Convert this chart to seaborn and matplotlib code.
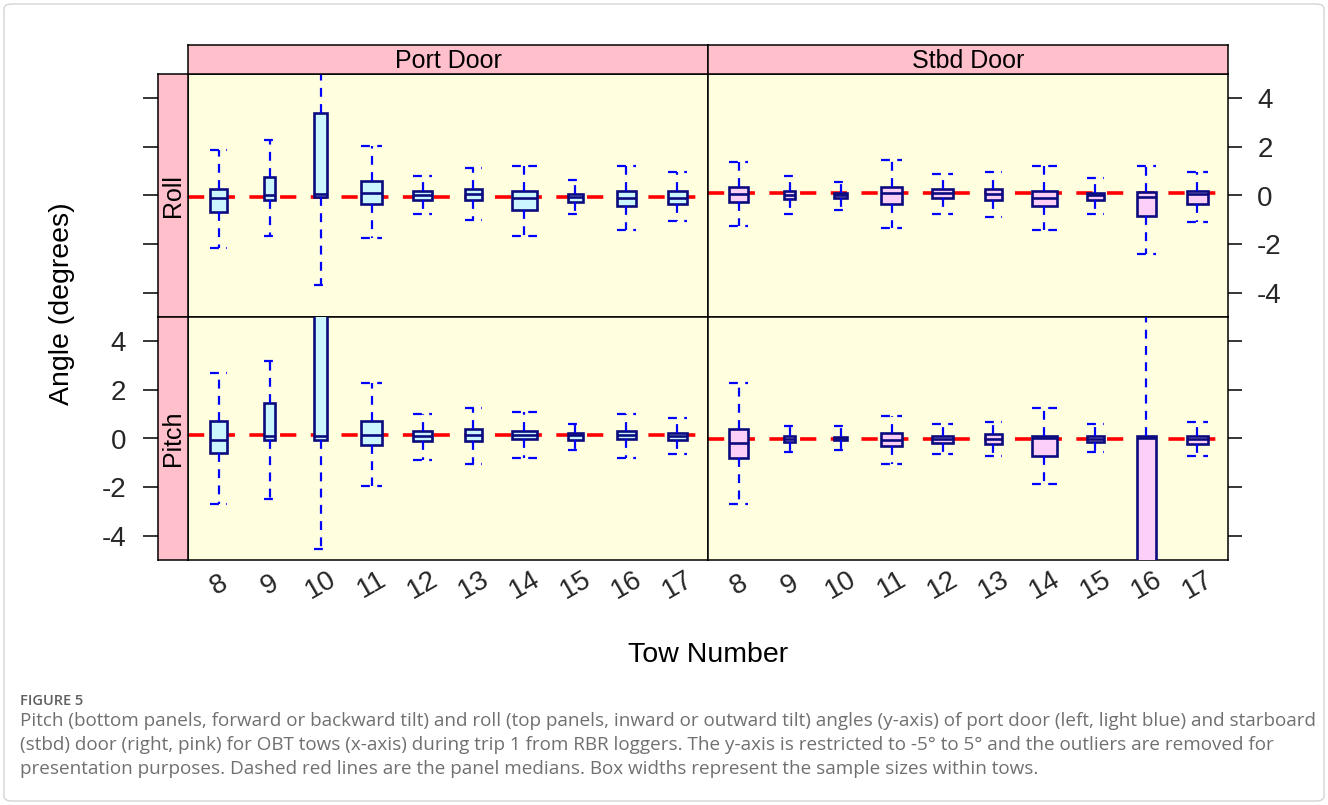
import numpy as np
import matplotlib
matplotlib.use("Agg")
import matplotlib.pyplot as plt
from matplotlib.patches import FancyBboxPatch
import seaborn as sns

# ---------------------------------------------------------------------------
# Data: five-number summaries (lower whisker, Q1, median, Q3, upper whisker)
# of door angles per tow, for each door and angle type.
# ---------------------------------------------------------------------------
tows = [8, 9, 10, 11, 12, 13, 14, 15, 16, 17]
door_names = ["Port Door", "Stbd Door"]
angle_names = ["Roll", "Pitch"]

# relative box widths (scaled by the number of samples in each tow)
port_width = [0.33, 0.21, 0.25, 0.43, 0.38, 0.33, 0.49, 0.29, 0.38, 0.36]
stbd_width = [0.37, 0.21, 0.25, 0.42, 0.40, 0.32, 0.49, 0.32, 0.36, 0.40]

port_roll_low = [-2.16, -1.67, -3.70, -1.74, -0.76, -1.01, -1.67, -0.76, -1.41, -1.06]
port_roll_q1 = [-0.66, -0.18, -0.07, -0.33, -0.18, -0.18, -0.58, -0.25, -0.42, -0.33]
port_roll_med = [-0.09, 0.03, 0.06, 0.10, 0.02, 0.06, -0.09, -0.08, -0.09, -0.09]
port_roll_q3 = [0.26, 0.77, 3.38, 0.59, 0.20, 0.28, 0.20, 0.06, 0.20, 0.20]
port_roll_high = [1.87, 2.27, 6.50, 2.05, 0.80, 1.13, 1.21, 0.64, 1.21, 0.95]

stbd_roll_low = [-1.26, -0.76, -0.60, -1.34, -0.76, -0.90, -1.41, -0.76, -2.41, -1.08]
stbd_roll_q1 = [-0.25, -0.16, -0.10, -0.35, -0.09, -0.18, -0.42, -0.18, -0.84, -0.33]
stbd_roll_med = [0.06, 0.03, 0.01, 0.09, 0.09, 0.06, -0.09, 0.01, -0.05, 0.06]
stbd_roll_q3 = [0.36, 0.20, 0.10, 0.36, 0.26, 0.28, 0.20, 0.11, 0.14, 0.20]
stbd_roll_high = [1.38, 0.80, 0.54, 1.46, 0.88, 0.95, 1.21, 0.71, 1.21, 0.95]

port_pitch_low = [-2.68, -2.51, -4.54, -1.94, -0.87, -1.04, -0.79, -0.46, -0.79, -0.63]
port_pitch_q1 = [-0.61, -0.05, -0.05, -0.28, -0.12, -0.12, -0.03, -0.05, -0.03, -0.05]
port_pitch_med = [-0.05, 0.11, 0.11, 0.14, 0.12, 0.14, 0.15, 0.14, 0.16, 0.10]
port_pitch_q3 = [0.71, 1.45, 6.00, 0.71, 0.31, 0.41, 0.31, 0.24, 0.31, 0.24]
port_pitch_high = [2.70, 3.20, 8.00, 2.30, 1.00, 1.26, 1.08, 0.59, 1.00, 0.85]

stbd_pitch_low = [-2.68, -0.56, -0.48, -1.04, -0.63, -0.72, -1.86, -0.56, -8.00, -0.72]
stbd_pitch_q1 = [-0.79, -0.13, -0.08, -0.30, -0.20, -0.22, -0.71, -0.13, -6.00, -0.22]
stbd_pitch_med = [-0.18, -0.01, 0.00, -0.05, -0.04, -0.03, 0.03, -0.01, 0.00, -0.04]
stbd_pitch_q3 = [0.41, 0.09, 0.08, 0.23, 0.09, 0.17, 0.09, 0.09, 0.09, 0.09]
stbd_pitch_high = [2.30, 0.52, 0.52, 0.93, 0.59, 0.68, 1.27, 0.59, 6.50, 0.68]

# overall median of each panel
panel_median = {
    ("Roll", "Port Door"): -0.05,
    ("Roll", "Stbd Door"): 0.12,
    ("Pitch", "Port Door"): 0.13,
    ("Pitch", "Stbd Door"): -0.03,
}

summaries = {
    ("Roll", "Port Door"): (port_roll_low, port_roll_q1, port_roll_med, port_roll_q3, port_roll_high),
    ("Roll", "Stbd Door"): (stbd_roll_low, stbd_roll_q1, stbd_roll_med, stbd_roll_q3, stbd_roll_high),
    ("Pitch", "Port Door"): (port_pitch_low, port_pitch_q1, port_pitch_med, port_pitch_q3, port_pitch_high),
    ("Pitch", "Stbd Door"): (stbd_pitch_low, stbd_pitch_q1, stbd_pitch_med, stbd_pitch_q3, stbd_pitch_high),
}
widths = {"Port Door": port_width, "Stbd Door": stbd_width}
fills = {"Port Door": "#CCF6FF", "Stbd Door": "#FCCFF8"}

caption_title = "FIGURE 5"
caption_text = (
    "Pitch (bottom panels, forward or backward tilt) and roll (top panels, inward or outward tilt) "
    "angles (y-axis) of port door (left, light blue) and starboard\n"
    "(stbd) door (right, pink) for OBT tows (x-axis) during trip 1 from RBR loggers. The y-axis is "
    "restricted to -5\u00b0 to 5\u00b0 and the outliers are removed for\n"
    "presentation purposes. Dashed red lines are the panel medians. Box widths represent the "
    "sample sizes within tows."
)

# ---------------------------------------------------------------------------
# Styling
# ---------------------------------------------------------------------------
sns.set_theme(style="white")
plt.rcParams["font.family"] = ["Liberation Sans", "DejaVu Sans"]

W, H = 1328, 805
fig = plt.figure(figsize=(W / 100, H / 100), dpi=100)
fig.patch.set_facecolor("white")


def box_px(x0, y0, x1, y1):
    return [x0 / W, 1 - y1 / H, (x1 - x0) / W, (y1 - y0) / H]


# outer frame of the figure
fig.patches.append(FancyBboxPatch(
    (4 / W, 4 / H), (W - 8) / W, (H - 8) / H,
    boxstyle="round,pad=0,rounding_size=0.006",
    transform=fig.transFigure, facecolor="none", edgecolor="#d4d4d4", lw=1.0))

col_x = {"Port Door": (188, 708), "Stbd Door": (708, 1228)}
row_y = {"Roll": (74, 317), "Pitch": (317, 560)}
strip_top = (45, 74)
strip_left = (158, 188)

ylim = (-5, 5)
yticks = [-4, -2, 0, 2, 4]
navy = "#0B0B7E"
blue = "#0000FF"
edge_lw = 1.1

for angle in angle_names:
    for door in door_names:
        x0, x1 = col_x[door]
        y0, y1 = row_y[angle]
        ax = fig.add_axes(box_px(x0, y0, x1, y1))
        ax.set_facecolor("#FFFFE0")

        ax.axhline(panel_median[(angle, door)], color="red", lw=2.6,
                   dashes=(4.5, 4), zorder=1)

        low, q1, med, q3, high = summaries[(angle, door)]
        for i, tow in enumerate(tows):
            vals = [low[i], q1[i], med[i], q3[i], high[i]]
            w = widths[door][i]
            sns.boxplot(
                x=[i + 1] * 5, y=vals, orient="x", native_scale=True,
                width=w, whis=(0, 100), color=fills[door], saturation=1,
                linecolor=navy, linewidth=1.9, showfliers=False,
                capwidths=w,
                whiskerprops=dict(color=blue, linestyle=(0, (4, 3.3)), linewidth=1.6),
                capprops=dict(color=blue, linestyle=(0, (4, 3.3)), linewidth=1.6),
                ax=ax, zorder=3,
            )

        ax.set_xlim(0.4, 10.6)
        ax.set_ylim(*ylim)
        ax.set_xlabel("")
        ax.set_ylabel("")
        for sp in ax.spines.values():
            sp.set_visible(True)
            sp.set_color("black")
            sp.set_linewidth(edge_lw)

        # x axis: tow labels only under the bottom row
        ax.set_xticks(range(1, len(tows) + 1))
        if angle == "Pitch":
            ax.set_xticklabels([str(t) for t in tows], fontsize=20, rotation=30)
            for lab in ax.get_xticklabels():
                lab.set_ha("center")
                lab.set_va("center")
                lab.set_rotation_mode("anchor")
            ax.tick_params(axis="x", length=0, pad=18)
        else:
            ax.set_xticklabels([])
            ax.tick_params(axis="x", length=0)

        # right side y axis on the right column
        ax.set_yticks(yticks)
        if door == "Stbd Door":
            ax.yaxis.tick_right()
            ax.tick_params(axis="y", which="both", right=True, left=False,
                           length=10, width=1.1, color="black", direction="out",
                           pad=11, labelsize=20)
            if angle == "Pitch":
                ax.set_yticklabels([])
            else:
                ax.set_yticklabels([str(t) for t in yticks])
        else:
            ax.tick_params(axis="y", left=False, right=False, labelleft=False)

        # top strip for the door
        if angle == "Roll":
            sax = fig.add_axes(box_px(x0, strip_top[0], x1, strip_top[1]))
            sax.set_facecolor("#FFC0CB")
            sax.set_xticks([])
            sax.set_yticks([])
            for sp in sax.spines.values():
                sp.set_visible(True)
                sp.set_color("black")
                sp.set_linewidth(edge_lw)
            sax.text(0.5, 0.46, door, transform=sax.transAxes, ha="center",
                     va="center", fontsize=18, color="black")

        # left strip for the angle type, carrying the left y axis
        if door == "Port Door":
            lax = fig.add_axes(box_px(strip_left[0], y0, strip_left[1], y1))
            lax.set_facecolor("#FFC0CB")
            lax.set_xticks([])
            lax.set_ylim(*ylim)
            lax.set_yticks(yticks)
            lax.tick_params(axis="y", left=True, length=11, width=1.1,
                            color="black", direction="out", pad=12, labelsize=20)
            if angle == "Pitch":
                lax.set_yticklabels([str(t) for t in yticks])
            else:
                lax.set_yticklabels([])
            for sp in lax.spines.values():
                sp.set_visible(True)
                sp.set_color("black")
                sp.set_linewidth(edge_lw)
            lax.text(0.5, 0.5, angle, transform=lax.transAxes, ha="center",
                     va="center", rotation=90, fontsize=18, color="black")

# axis titles
fig.text(62 / W, 1 - 304 / H, "Angle (degrees)", rotation=90, ha="center",
         va="center", fontsize=20.5, color="black")
fig.text(708 / W, 1 - 655 / H, "Tow Number", ha="center", va="center",
         fontsize=20.5, color="black")

# caption
fig.text(20 / W, 1 - 701 / H, caption_title, ha="left", va="center",
         fontsize=10.5, color="#5f5f5f", family=["Open Sans", "DejaVu Sans"],
         fontweight="semibold")
fig.text(20 / W, 1 - 712 / H, caption_text, ha="left", va="top",
         fontsize=13.6, color="#707070", family=["Open Sans", "DejaVu Sans"],
         linespacing=1.42)

fig.savefig("out.png", dpi=100)
